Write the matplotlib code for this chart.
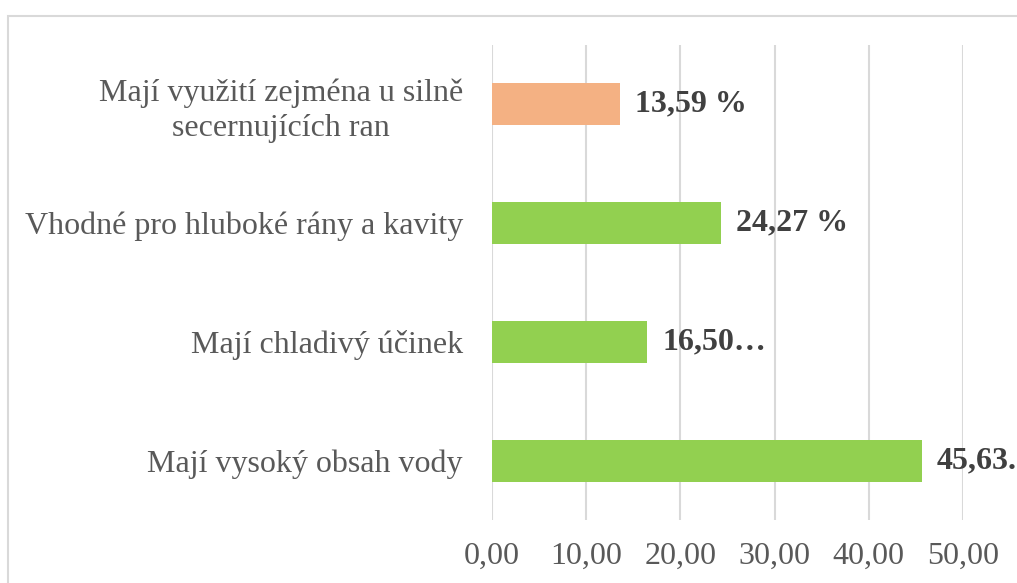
import matplotlib.pyplot as plt
from matplotlib.patches import Rectangle

# hodnoty z grafu (v %)
kategorie = ["Mají vysoký obsah vody",
             "Mají chladivý účinek",
             "Vhodné pro hluboké rány a kavity",
             "Mají využití zejména u silně\nsecernujících ran"]
hodnoty = [45.63, 16.50, 24.27, 13.59]
popisky = ["45,63.", "16,50…", "24,27 %", "13,59 %"]
barvy = ["#92D050", "#92D050", "#92D050", "#F4B183"]
xticky = [0, 10, 20, 30, 40, 50]
xtick_popisky = ["0,00", "10,00", "20,00", "30,00", "40,00", "50,00"]

plt.rcParams['font.family'] = ['Liberation Serif', 'DejaVu Serif']

fig = plt.figure(figsize=(10.17, 5.83), dpi=100)
ax = fig.add_axes([492/1017, 1 - 520/583, 471/1017, 475/583])

y = range(len(kategorie))
ax.barh(y, hodnoty, height=0.353, color=barvy, zorder=2)
ax.set_ylim(-0.5, len(kategorie) - 0.5)
ax.set_xlim(0, 50)

ax.set_yticks(list(y))
ax.set_yticklabels(kategorie, fontsize=23, color="#595959")
for lab in ax.get_yticklabels():
    lab.set_multialignment('center')
    lab.set_linespacing(1.25)
ax.set_xticks(xticky)
ax.set_xticklabels(xtick_popisky, fontsize=23, color="#595959")
ax.tick_params(axis='both', length=0)
ax.tick_params(axis='y', pad=21)
ax.tick_params(axis='x', pad=16)

ax.grid(axis='x', color="#D9D9D9", linewidth=1.5, zorder=0)
ax.set_axisbelow(True)
for s in ax.spines.values():
    s.set_visible(False)

for i, (v, t) in enumerate(zip(hodnoty, popisky)):
    ax.annotate(t, (v, i), xytext=(11, 0), textcoords='offset points',
                va='center', ha='left', fontsize=23, fontweight='bold',
                color="#404040", annotation_clip=False)

# ramecek grafu
fig.patches.append(Rectangle((8/1017, -0.1), 1.2, 1 - 16/583 + 0.1,
                             transform=fig.transFigure, fill=False,
                             edgecolor="#D9D9D9", linewidth=1.5))

fig.savefig("out.png", dpi=100)
